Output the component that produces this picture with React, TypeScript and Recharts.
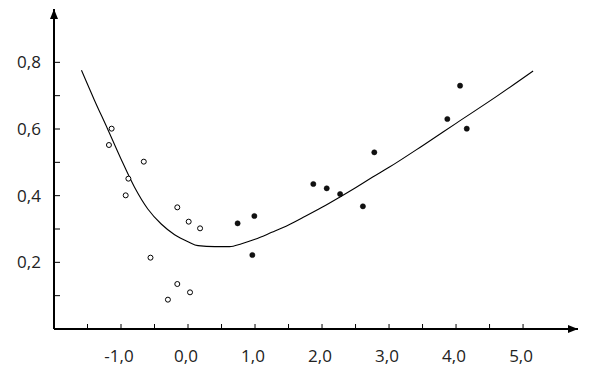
import { Scatter, ScatterChart, XAxis, YAxis } from "recharts";

// open circles (left group)
const openX = [-1.14, -1.18, -0.66, -0.89, -0.93, -0.16, 0.01, 0.18, -0.56, -0.16, 0.03, -0.3];
const openY = [0.601, 0.552, 0.502, 0.451, 0.401, 0.365, 0.322, 0.302, 0.214, 0.135, 0.11, 0.088];

// filled dots (right group)
const filledX = [0.74, 0.99, 0.96, 1.87, 2.07, 2.27, 2.61, 2.78, 4.06, 3.87, 4.16];
const filledY = [0.317, 0.339, 0.222, 0.435, 0.422, 0.405, 0.368, 0.53, 0.73, 0.63, 0.601];

// fitted curve
const curveX = [-1.59, -1.4, -1.2, -1.0, -0.8, -0.6, -0.4, -0.2, 0.0, 0.15, 0.4, 0.62, 0.8, 1.0, 1.25, 1.5, 1.75, 2.0, 2.25, 2.5, 2.75, 3.0, 3.5, 4.0, 4.6, 5.15];
const curveY = [0.776, 0.688, 0.6, 0.51, 0.426, 0.36, 0.315, 0.283, 0.262, 0.25, 0.247, 0.247, 0.256, 0.269, 0.29, 0.312, 0.338, 0.365, 0.394, 0.424, 0.455, 0.485, 0.55, 0.617, 0.697, 0.774];

const xTicks = [-1.5, -1, -0.5, 0, 0.5, 1, 1.5, 2, 2.5, 3, 3.5, 4, 4.5, 5];
const yTicks = [0.1, 0.2, 0.3, 0.4, 0.5, 0.6, 0.7, 0.8];
const yLabelled = [0.2, 0.4, 0.6, 0.8];

const toPoints = (xs: number[], ys: number[]) => xs.map((x, i) => ({ x, y: ys[i] }));

const openData = toPoints(openX, openY);
const filledData = toPoints(filledX, filledY);
const curveData = toPoints(curveX, curveY);

const fmt = (v: number) => v.toFixed(1).replace(".", ",");

const labelStyle = { fontFamily: "'Open Sans', sans-serif", fontSize: 17, fill: "#222" };

function XTick(props: any) {
  const { x, y, payload } = props;
  const v = payload.value as number;
  return (
    <g>
      <line x1={x} x2={x} y1={y} y2={y - 5} stroke="#000" strokeWidth={1} />
      {Number.isInteger(v) && (
        <text x={x - 2} y={y + 27} textAnchor="middle" dy="0.35em" style={labelStyle}>
          {fmt(v)}
        </text>
      )}
    </g>
  );
}

function YTick(props: any) {
  const { x, y, payload } = props;
  const v = payload.value as number;
  const show = yLabelled.some((l) => Math.abs(l - v) < 1e-6);
  return (
    <g>
      <line x1={x} x2={x + 6} y1={y} y2={y} stroke="#000" strokeWidth={1} />
      {show && (
        <text x={x - 25} y={y} textAnchor="middle" dy="0.35em" style={labelStyle}>
          {fmt(v)}
        </text>
      )}
    </g>
  );
}

export default function App() {
  return (
    <div style={{ width: 600, height: 377, background: "#fff" }}>
      <style>{`body{margin:0;background:#fff}`}</style>
      <svg width={0} height={0} style={{ position: "absolute" }}>
        <defs>
          <marker
            id="axisArrow"
            markerUnits="userSpaceOnUse"
            markerWidth={11}
            markerHeight={9}
            refX={10}
            refY={4}
            orient="auto-start-reverse"
          >
            <path d="M0,0 L10,4 L0,8 z" fill="#000" />
          </marker>
        </defs>
      </svg>
      <ScatterChart width={600} height={377} margin={{ top: 9, right: 22, left: 0, bottom: 0 }}>
        <XAxis
          dataKey="x"
          type="number"
          domain={[-2, 5.82]}
          ticks={xTicks}
          interval={0}
          height={48}
          tickSize={0}
          tickMargin={0}
          tickLine={false}
          tick={<XTick />}
          axisLine={{ stroke: "#000", strokeWidth: 2, markerEnd: "url(#axisArrow)" }}
          allowDataOverflow
        />
        <YAxis
          dataKey="y"
          type="number"
          domain={[0, 0.96]}
          ticks={yTicks}
          interval={0}
          width={54}
          tickSize={0}
          tickMargin={0}
          tickLine={false}
          tick={<YTick />}
          axisLine={{ stroke: "#000", strokeWidth: 2, markerStart: "url(#axisArrow)" }}
          allowDataOverflow
        />
        <Scatter
          data={curveData}
          line={{ stroke: "#000", strokeWidth: 1.1 }}
          lineJointType="monotoneX"
          shape={() => <g />}
          isAnimationActive={false}
        />
        <Scatter
          data={openData}
          shape={(p: any) => <circle cx={p.cx} cy={p.cy} r={2.5} fill="#fff" stroke="#000" strokeWidth={1} />}
          isAnimationActive={false}
        />
        <Scatter
          data={filledData}
          shape={(p: any) => <circle cx={p.cx} cy={p.cy} r={2.6} fill="#111" stroke="#000" strokeWidth={0.5} />}
          isAnimationActive={false}
        />
      </ScatterChart>
    </div>
  );
}
